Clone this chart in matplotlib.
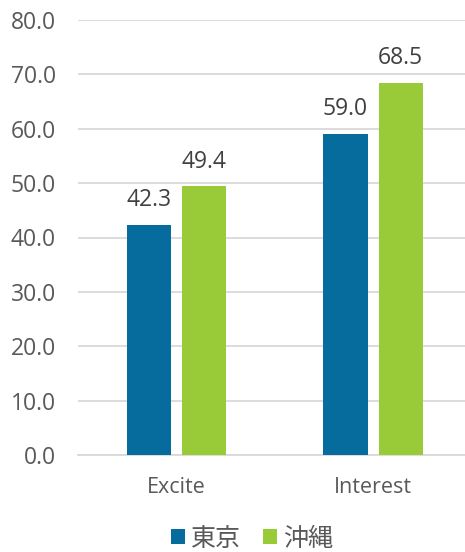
import matplotlib
matplotlib.use("Agg")
import matplotlib.pyplot as plt
import numpy as np

categories = ["Excite", "Interest"]
series_names = ["東京", "沖縄"]
tokyo = [42.3, 59.0]
okinawa = [49.4, 68.5]
colors = ["#066C9D", "#99CB38"]
yticks = [0, 10, 20, 30, 40, 50, 60, 70, 80]

plt.rcParams['font.family'] = ['Open Sans', 'Noto Sans CJK JP', 'DejaVu Sans']
txt = "#595959"

fig = plt.figure(figsize=(4.65, 5.52), dpi=100)
W, H = 465, 552
ax = fig.add_axes([78 / W, (H - 455) / H, (465 - 78) / W, (455 - 20) / H])

x = np.arange(len(categories))
bw = 0.224
off = 0.14
for i, (vals, c, name) in enumerate(zip([tokyo, okinawa], colors, series_names)):
    pos = x + (-off if i == 0 else off)
    bars = ax.bar(pos, vals, width=bw, color=c, label=name, zorder=3)
    for b, v in zip(bars, vals):
        ax.annotate(f"{v:.1f}", (b.get_x() + b.get_width() / 2, v),
                    xytext=(0, 13.5), textcoords="offset points",
                    ha="center", va="baseline", fontsize=16.5, color="#404040")

ax.set_xlim(-0.501, 1.468)
ax.set_ylim(0, 80)
ax.set_yticks(yticks)
ax.set_yticklabels([f"{t:.1f}" for t in yticks], fontsize=16.5, color=txt)
ax.set_xticks(x)
ax.set_xticklabels(categories, fontsize=15.5, color=txt)
ax.tick_params(axis="both", length=0)
ax.tick_params(axis="y", pad=16)
ax.tick_params(axis="x", pad=16)
ax.grid(axis="y", color="#D9D9D9", linewidth=1.3, zorder=0)
for s in ["top", "right", "left"]:
    ax.spines[s].set_visible(False)
ax.spines["bottom"].set_color("#D9D9D9")
ax.spines["bottom"].set_linewidth(1.3)

leg = fig.legend(loc="center", bbox_to_anchor=(252 / W, 1 - 539 / H), ncol=2,
                 frameon=False, fontsize=18, handlelength=0.55, handleheight=0.55,
                 handletextpad=0.25, columnspacing=0.9)
for t in leg.get_texts():
    t.set_color(txt)

fig.savefig("out.png", dpi=100)
